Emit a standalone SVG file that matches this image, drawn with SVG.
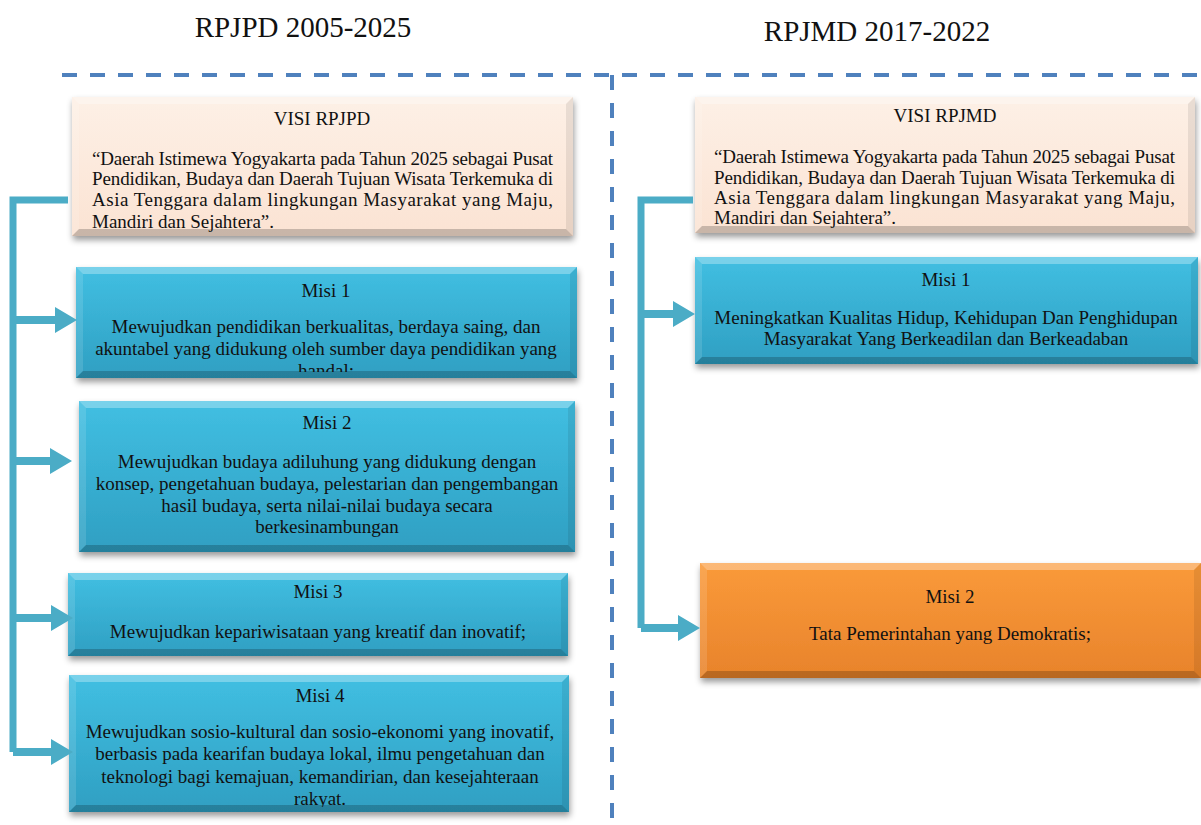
<svg xmlns="http://www.w3.org/2000/svg" width="1201" height="825" viewBox="0 0 1201 825">
<style>
.t{font-family:"Liberation Serif","Times New Roman",serif;font-size:19px;fill:#111;}
.c{text-anchor:middle;}
.h{font-family:"Liberation Serif","Times New Roman",serif;font-size:29px;fill:#111;text-anchor:middle;}
.bt{fill:#fff;fill-opacity:.3;}
.bl{fill:#fff;fill-opacity:.12;}
.br{fill:#000;fill-opacity:.08;}
.bb{fill:#000;fill-opacity:.2;}
.conn{fill:none;stroke:#4bacc6;stroke-width:7;}
.arr{fill:#4bacc6;}
.dash{fill:none;stroke:#4f81bd;stroke-width:4;stroke-dasharray:15 13;}
</style>
<defs>
<linearGradient id="gBlue" x1="0" y1="0" x2="0" y2="1"><stop offset="0" stop-color="#41bfe2"/><stop offset="1" stop-color="#2f9fc2"/></linearGradient>
<linearGradient id="gPeach" x1="0" y1="0" x2="0" y2="1"><stop offset="0" stop-color="#fdf0e6"/><stop offset="1" stop-color="#fbe3d3"/></linearGradient>
<linearGradient id="gOrange" x1="0" y1="0" x2="0" y2="1"><stop offset="0" stop-color="#fa9a3a"/><stop offset="1" stop-color="#e8832b"/></linearGradient>
<filter id="sh" x="-5%" y="-10%" width="110%" height="125%"><feDropShadow dx="1" dy="4" stdDeviation="3" flood-color="#000" flood-opacity=".4"/></filter>
<clipPath id="c1"><rect x="72" y="97" width="501" height="136"/></clipPath>
<clipPath id="c2"><rect x="76" y="267" width="501" height="105"/></clipPath>
<clipPath id="c5"><rect x="69" y="675" width="500" height="132"/></clipPath>
<clipPath id="c6"><rect x="695" y="97" width="500" height="131"/></clipPath>
</defs>

<text class="h" x="303" y="37">RPJPD 2005-2025</text>
<text class="h" x="877" y="41">RPJMD 2017-2022</text>

<g id="dividers">
<path class="dash" d="M62 75 H1201"/>
<path class="dash" d="M612 75 V825"/>
</g>

<g id="visi-rpjpd">
<rect x="72" y="97" width="501" height="139" fill="url(#gPeach)" filter="url(#sh)"/>
<polygon class="bt" points="72,97 573,97 566,104 79,104"/>
<polygon class="bl" points="72,97 79,104 79,229 72,236"/>
<polygon class="br" points="573,97 566,104 566,229 573,236"/>
<polygon class="bb" points="72,236 573,236 566,229 79,229" fill-opacity=".1"/>
<g clip-path="url(#c1)">
<text class="t c" x="322" y="125">VISI RPJPD</text>
<text class="t" x="92" y="165" textLength="461" lengthAdjust="spacing">“Daerah Istimewa Yogyakarta pada Tahun 2025 sebagai Pusat</text>
<text class="t" x="92" y="185" textLength="461" lengthAdjust="spacing">Pendidikan, Budaya dan Daerah Tujuan Wisata Terkemuka di</text>
<text class="t" x="92" y="206" textLength="461" lengthAdjust="spacing">Asia Tenggara dalam lingkungan Masyarakat yang Maju,</text>
<text class="t" x="92" y="228">Mandiri dan Sejahtera”.</text>
</g>
</g>

<g id="misi1-rpjpd">
<rect x="76" y="267" width="501" height="111" fill="url(#gBlue)" filter="url(#sh)"/>
<polygon class="bt" points="76,267 577,267 570,274 83,274"/>
<polygon class="bl" points="76,267 83,274 83,371 76,378"/>
<polygon class="br" points="577,267 570,274 570,371 577,378"/>
<polygon class="bb" points="76,378 577,378 570,371 83,371"/>
<g clip-path="url(#c2)">
<text class="t c" x="326" y="297">Misi 1</text>
<text class="t c" x="326" y="333">Mewujudkan pendidikan berkualitas, berdaya saing, dan</text>
<text class="t c" x="326" y="355">akuntabel yang didukung oleh sumber daya pendidikan yang</text>
<text class="t c" x="326" y="377">handal;</text>
</g>
</g>

<g id="misi2-rpjpd">
<rect x="79" y="401" width="496" height="151" fill="url(#gBlue)" filter="url(#sh)"/>
<polygon class="bt" points="79,401 575,401 568,408 86,408"/>
<polygon class="bl" points="79,401 86,408 86,545 79,552"/>
<polygon class="br" points="575,401 568,408 568,545 575,552"/>
<polygon class="bb" points="79,552 575,552 568,545 86,545"/>
<text class="t c" x="327" y="429">Misi 2</text>
<text class="t c" x="327" y="468">Mewujudkan budaya adiluhung yang didukung dengan</text>
<text class="t c" x="327" y="490">konsep, pengetahuan budaya, pelestarian dan pengembangan</text>
<text class="t c" x="327" y="512">hasil budaya, serta nilai-nilai budaya secara</text>
<text class="t c" x="327" y="533">berkesinambungan</text>
</g>

<g id="misi3-rpjpd">
<rect x="68" y="573" width="500" height="83" fill="url(#gBlue)" filter="url(#sh)"/>
<polygon class="bt" points="68,573 568,573 561,580 75,580"/>
<polygon class="bl" points="68,573 75,580 75,649 68,656"/>
<polygon class="br" points="568,573 561,580 561,649 568,656"/>
<polygon class="bb" points="68,656 568,656 561,649 75,649"/>
<text class="t c" x="318" y="598">Misi 3</text>
<text class="t c" x="318" y="638">Mewujudkan kepariwisataan yang kreatif dan inovatif;</text>
</g>

<g id="misi4-rpjpd">
<rect x="69" y="675" width="500" height="137" fill="url(#gBlue)" filter="url(#sh)"/>
<polygon class="bt" points="69,675 569,675 562,682 76,682"/>
<polygon class="bl" points="69,675 76,682 76,805 69,812"/>
<polygon class="br" points="569,675 562,682 562,805 569,812"/>
<polygon class="bb" points="69,812 569,812 562,805 76,805"/>
<g clip-path="url(#c5)">
<text class="t c" x="320" y="702">Misi 4</text>
<text class="t c" x="320" y="738">Mewujudkan sosio-kultural dan sosio-ekonomi yang inovatif,</text>
<text class="t c" x="320" y="760">berbasis pada kearifan budaya lokal, ilmu pengetahuan dan</text>
<text class="t c" x="320" y="783">teknologi bagi kemajuan, kemandirian, dan kesejahteraan</text>
<text class="t c" x="320" y="805">rakyat.</text>
</g>
</g>

<g id="visi-rpjmd">
<rect x="695" y="97" width="500" height="136" fill="url(#gPeach)" filter="url(#sh)"/>
<polygon class="bt" points="695,97 1195,97 1188,104 702,104"/>
<polygon class="bl" points="695,97 702,104 702,226 695,233"/>
<polygon class="br" points="1195,97 1188,104 1188,226 1195,233"/>
<polygon class="bb" points="695,233 1195,233 1188,226 702,226" fill-opacity=".1"/>
<g clip-path="url(#c6)">
<text class="t c" x="945" y="122">VISI RPJMD</text>
<text class="t" x="714" y="163" textLength="461" lengthAdjust="spacing">“Daerah Istimewa Yogyakarta pada Tahun 2025 sebagai Pusat</text>
<text class="t" x="714" y="184" textLength="461" lengthAdjust="spacing">Pendidikan, Budaya dan Daerah Tujuan Wisata Terkemuka di</text>
<text class="t" x="714" y="204" textLength="461" lengthAdjust="spacing">Asia Tenggara dalam lingkungan Masyarakat yang Maju,</text>
<text class="t" x="714" y="224">Mandiri dan Sejahtera”.</text>
</g>
</g>

<g id="misi1-rpjmd">
<rect x="695" y="257" width="503" height="107" fill="url(#gBlue)" filter="url(#sh)"/>
<polygon class="bt" points="695,257 1198,257 1191,264 702,264"/>
<polygon class="bl" points="695,257 702,264 702,357 695,364"/>
<polygon class="br" points="1198,257 1191,264 1191,357 1198,364"/>
<polygon class="bb" points="695,364 1198,364 1191,357 702,357"/>
<text class="t c" x="946" y="286">Misi 1</text>
<text class="t c" x="946" y="324">Meningkatkan Kualitas Hidup, Kehidupan Dan Penghidupan</text>
<text class="t c" x="946" y="345">Masyarakat Yang Berkeadilan dan Berkeadaban</text>
</g>

<g id="misi2-rpjmd">
<rect x="700" y="563" width="501" height="115" fill="url(#gOrange)" filter="url(#sh)"/>
<polygon class="bt" points="700,563 1201,563 1194,570 707,570"/>
<polygon class="bl" points="700,563 707,570 707,671 700,678"/>
<polygon class="br" points="1201,563 1194,570 1194,671 1201,678"/>
<polygon class="bb" points="700,678 1201,678 1194,671 707,671"/>
<text class="t c" x="950" y="603">Misi 2</text>
<text class="t c" x="950" y="640">Tata Pemerintahan yang Demokratis;</text>
</g>

<g id="connectors">
<path class="conn" d="M68 200 H13 V752"/>
<polygon class="arr" points="13,316 55,316 55,307 77,320 55,333 55,324 13,324"/>
<polygon class="arr" points="13,457 50,457 50,448 72,461 50,474 50,465 13,465"/>
<polygon class="arr" points="13,614 51,614 51,605 73,618 51,631 51,622 13,622"/>
<polygon class="arr" points="13,748 51,748 51,739 73,752 51,765 51,756 13,756"/>
<path class="conn" d="M693 200 H641 V628"/>
<polygon class="arr" points="641,310 673,310 673,301 695,314 673,327 673,318 641,318"/>
<polygon class="arr" points="641,624 678,624 678,615 700,628 678,641 678,632 641,632"/>
</g>
</svg>
